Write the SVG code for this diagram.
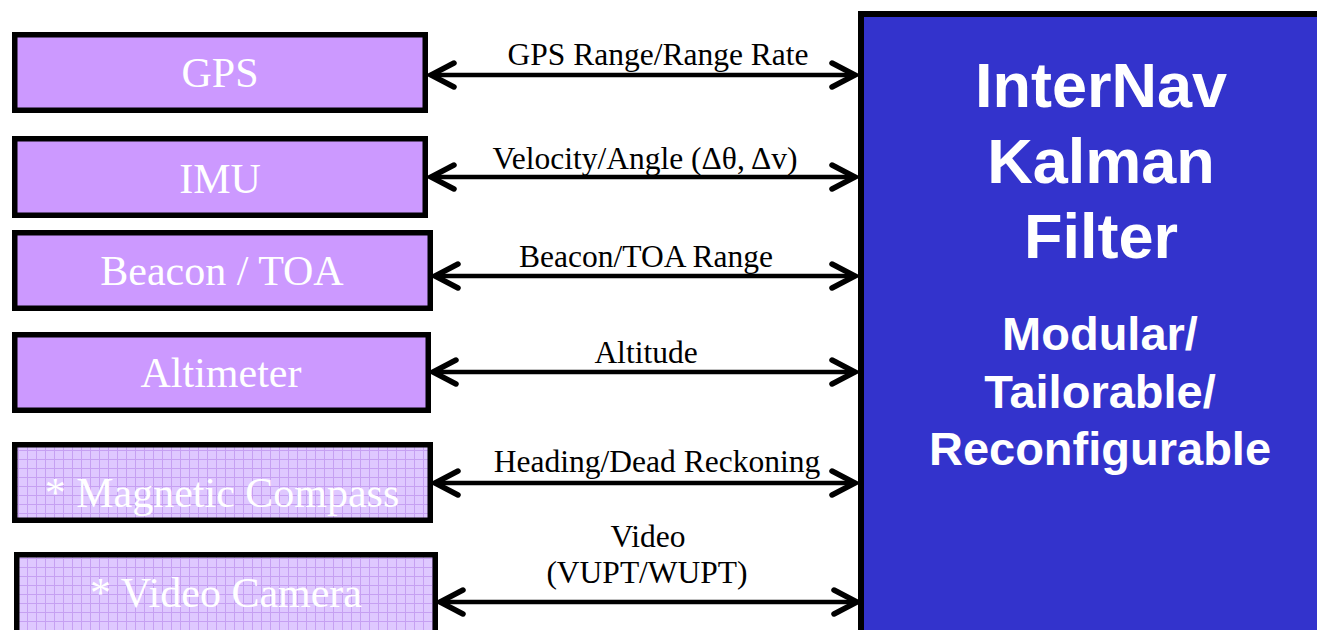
<svg xmlns="http://www.w3.org/2000/svg" width="1317" height="630" viewBox="0 0 1317 630">
  <style>
    .box { fill: #CC99FF; stroke: #000; stroke-width: 5.5; }
    .hatch { fill: url(#grid); stroke: #000; stroke-width: 5.5; }
    .boxtxt { font-family: "Liberation Serif", "Times New Roman", serif; font-size: 42px; fill: #fff; text-anchor: middle; }
    .lbl { font-family: "Liberation Serif", "Times New Roman", serif; font-size: 31.5px; fill: #000; text-anchor: middle; }
    .conn { stroke: #000; stroke-width: 4.5; fill: none; marker-start: url(#chev); marker-end: url(#chev); }
    .big { font-family: "Liberation Sans", Arial, sans-serif; font-weight: bold; fill: #fff; text-anchor: middle; }
  </style>
  <defs>
    <pattern id="grid" width="9" height="9" patternUnits="userSpaceOnUse">
      <rect width="9" height="9" fill="#DFC8FF"/>
      <path d="M0 0.5 H9 M0.5 0 V9" stroke="#C6A0F2" stroke-width="1"/>
    </pattern>
    <marker id="chev" viewBox="-28 -16 32 32" markerWidth="32" markerHeight="32" refX="0" refY="0" orient="auto-start-reverse" markerUnits="userSpaceOnUse">
      <path d="M-23 -12 L0 0 L-23 12" fill="none" stroke="#000" stroke-width="5.5" stroke-linecap="round" stroke-linejoin="miter"/>
    </marker>
  </defs>

  <g id="internav">
    <rect x="861" y="14" width="470" height="630" fill="#3333CC" stroke="#000" stroke-width="6"/>
    <text class="big" x="1101" y="107" font-size="63">InterNav</text>
    <text class="big" x="1101" y="183" font-size="63">Kalman</text>
    <text class="big" x="1101" y="258" font-size="63">Filter</text>
    <text class="big" x="1100" y="350" font-size="47">Modular/</text>
    <text class="big" x="1100" y="408" font-size="47">Tailorable/</text>
    <text class="big" x="1100" y="465" font-size="47">Reconfigurable</text>
  </g>

  <g id="gps">
    <rect class="box" x="14.75" y="34.75" width="410.5" height="75.5"/>
    <text class="boxtxt" x="220" y="87">GPS</text>
  </g>
  <g id="imu">
    <rect class="box" x="14.75" y="138.75" width="410.5" height="76.5"/>
    <text class="boxtxt" x="220" y="193">IMU</text>
  </g>
  <g id="beacon">
    <rect class="box" x="14.75" y="232.75" width="415.5" height="75.5"/>
    <text class="boxtxt" x="222" y="285">Beacon / TOA</text>
  </g>
  <g id="altimeter">
    <rect class="box" x="14.75" y="334.75" width="413.5" height="75.5"/>
    <text class="boxtxt" x="221" y="387">Altimeter</text>
  </g>
  <g id="compass">
    <rect class="hatch" x="14.75" y="444.75" width="415.5" height="75.5"/>
    <text class="boxtxt" x="222" y="507">* Magnetic Compass</text>
  </g>
  <g id="camera">
    <rect class="hatch" x="16.75" y="554.75" width="418.5" height="90"/>
    <text class="boxtxt" x="226" y="607">* Video Camera</text>
  </g>

  <g id="connectors">
    <line class="conn" x1="431" y1="75" x2="855" y2="75"/>
    <line class="conn" x1="431" y1="177" x2="855" y2="177"/>
    <line class="conn" x1="435" y1="276" x2="855" y2="276"/>
    <line class="conn" x1="433" y1="372" x2="855" y2="372"/>
    <line class="conn" x1="435" y1="483" x2="855" y2="483"/>
    <line class="conn" x1="440" y1="602" x2="857" y2="602"/>
    <text class="lbl" x="658" y="65">GPS Range/Range Rate</text>
    <text class="lbl" x="645" y="169">Velocity/Angle (Δθ, Δv)</text>
    <text class="lbl" x="646" y="267">Beacon/TOA Range</text>
    <text class="lbl" x="646" y="363">Altitude</text>
    <text class="lbl" x="657" y="472">Heading/Dead Reckoning</text>
    <text class="lbl" x="648" y="547">Video</text>
    <text class="lbl" x="647" y="583">(VUPT/WUPT)</text>
  </g>
</svg>
